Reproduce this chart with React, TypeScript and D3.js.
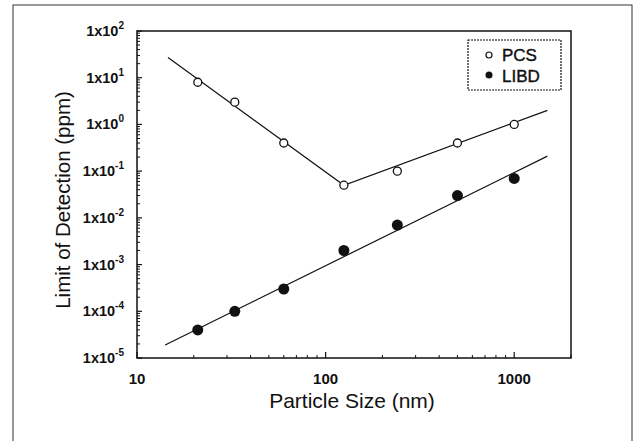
import React from "react";
import * as d3 from "d3";

// data
const pcsSize = [21, 33, 60, 125, 240, 500, 1000];
const pcsLod = [8, 3, 0.4, 0.05, 0.1, 0.4, 1];
const libdSize = [21, 33, 60, 125, 240, 500, 1000];
const libdLod = [4e-5, 1e-4, 3e-4, 2e-3, 7e-3, 3e-2, 7e-2];

// fitted lines (endpoints)
const pcsFitSize = [14.6, 125, 1500];
const pcsFitLod = [27, 0.05, 2.0];
const libdFitSize = [14.1, 1500];
const libdFitLod = [1.9e-5, 0.21];

const xTicks = [10, 100, 1000];
const yExps = [2, 1, 0, -1, -2, -3, -4, -5];

const W = 636;
const H = 441;
const m = { left: 137, top: 31, right: 571, bottom: 358 };
const font = "'Liberation Sans', Arial, sans-serif";

export default function App() {
  const x = d3.scaleLog().domain([10, 2000]).range([m.left, m.right]);
  const y = d3.scaleLog().domain([1e-5, 100]).range([m.bottom, m.top]);

  const line = d3
    .line<[number, number]>()
    .x((d) => x(d[0]))
    .y((d) => y(d[1]));

  const pcsFit = pcsFitSize.map((s, i) => [s, pcsFitLod[i]] as [number, number]);
  const libdFit = libdFitSize.map((s, i) => [s, libdFitLod[i]] as [number, number]);

  // minor ticks
  const xMinor: number[] = [];
  for (let dec = 10; dec < 2000; dec *= 10) {
    for (let k = 2; k <= 9; k++) if (dec * k <= 2000) xMinor.push(dec * k);
  }
  const yMinor: number[] = [];
  for (let e = -5; e < 2; e++) {
    for (let k = 2; k <= 9; k++) yMinor.push(k * Math.pow(10, e));
  }

  return (
    <svg
      width={W}
      height={H}
      style={{ position: "absolute", left: 0, top: 0, background: "#fff" }}
    >
      {/* outer frame */}
      <rect x={13} y={5} width={619} height={445} fill="none" stroke="#333" strokeWidth={1} />

      {/* plot box */}
      <rect
        x={m.left}
        y={m.top}
        width={m.right - m.left}
        height={m.bottom - m.top}
        fill="none"
        stroke="#111"
        strokeWidth={1.5}
      />

      {/* x ticks */}
      {xTicks.map((t) => (
        <line key={"xt" + t} x1={x(t)} x2={x(t)} y1={m.bottom} y2={m.bottom - 6} stroke="#111" strokeWidth={1.2} />
      ))}
      {xMinor.map((t) => (
        <line key={"xm" + t} x1={x(t)} x2={x(t)} y1={m.bottom} y2={m.bottom - 3} stroke="#111" strokeWidth={1} />
      ))}
      {xTicks.map((t) => (
        <text
          key={"xl" + t}
          x={x(t)}
          y={384}
          textAnchor="middle"
          fontFamily={font}
          fontWeight="bold"
          fontSize={15}
          fill="#111"
        >
          {t}
        </text>
      ))}

      {/* y ticks */}
      {yExps.map((e) => (
        <line
          key={"yt" + e}
          x1={m.left}
          x2={m.left + 5}
          y1={y(Math.pow(10, e))}
          y2={y(Math.pow(10, e))}
          stroke="#111"
          strokeWidth={1.2}
        />
      ))}
      {yMinor.map((t, i) => (
        <line key={"ym" + i} x1={m.left} x2={m.left + 3} y1={y(t)} y2={y(t)} stroke="#111" strokeWidth={1} />
      ))}
      {yExps.map((e) => (
        <text
          key={"yl" + e}
          x={124}
          y={y(Math.pow(10, e)) + 5}
          textAnchor="end"
          fontFamily={font}
          fontWeight="bold"
          fontSize={14.5}
          fill="#111"
        >
          1x10
          <tspan fontSize={10} dy={-7}>
            {e}
          </tspan>
        </text>
      ))}

      {/* fitted lines */}
      <path d={line(pcsFit) || ""} fill="none" stroke="#111" strokeWidth={1.2} />
      <path d={line(libdFit) || ""} fill="none" stroke="#111" strokeWidth={1.2} />

      {/* points */}
      {pcsSize.map((s, i) => (
        <circle key={"p" + i} cx={x(s)} cy={y(pcsLod[i])} r={4} fill="#fff" stroke="#111" strokeWidth={1.3} />
      ))}
      {libdSize.map((s, i) => (
        <circle key={"l" + i} cx={x(s)} cy={y(libdLod[i])} r={5.5} fill="#111" />
      ))}

      {/* legend */}
      <rect x={468} y={40} width={93} height={50} fill="#fff" stroke="#111" strokeWidth={1.2} strokeDasharray="2,1" />
      <circle cx={489} cy={55} r={3} fill="#fff" stroke="#111" strokeWidth={1.2} />
      <circle cx={489} cy={75} r={3.5} fill="#111" />
      <text x={502} y={61} fontFamily={font} fontSize={17} fill="#111" stroke="#111" strokeWidth={0.4}>
        PCS
      </text>
      <text x={502} y={82} fontFamily={font} fontSize={17} fill="#111" stroke="#111" strokeWidth={0.4}>
        LIBD
      </text>

      {/* axis titles */}
      <text x={352} y={408} textAnchor="middle" fontFamily={font} fontSize={21} fill="#111">
        Particle Size (nm)
      </text>
      <text
        transform={`translate(70, 200) rotate(-90)`}
        textAnchor="middle"
        fontFamily={font}
        fontSize={20.5}
        fill="#111"
      >
        Limit of Detection (ppm)
      </text>
    </svg>
  );
}
